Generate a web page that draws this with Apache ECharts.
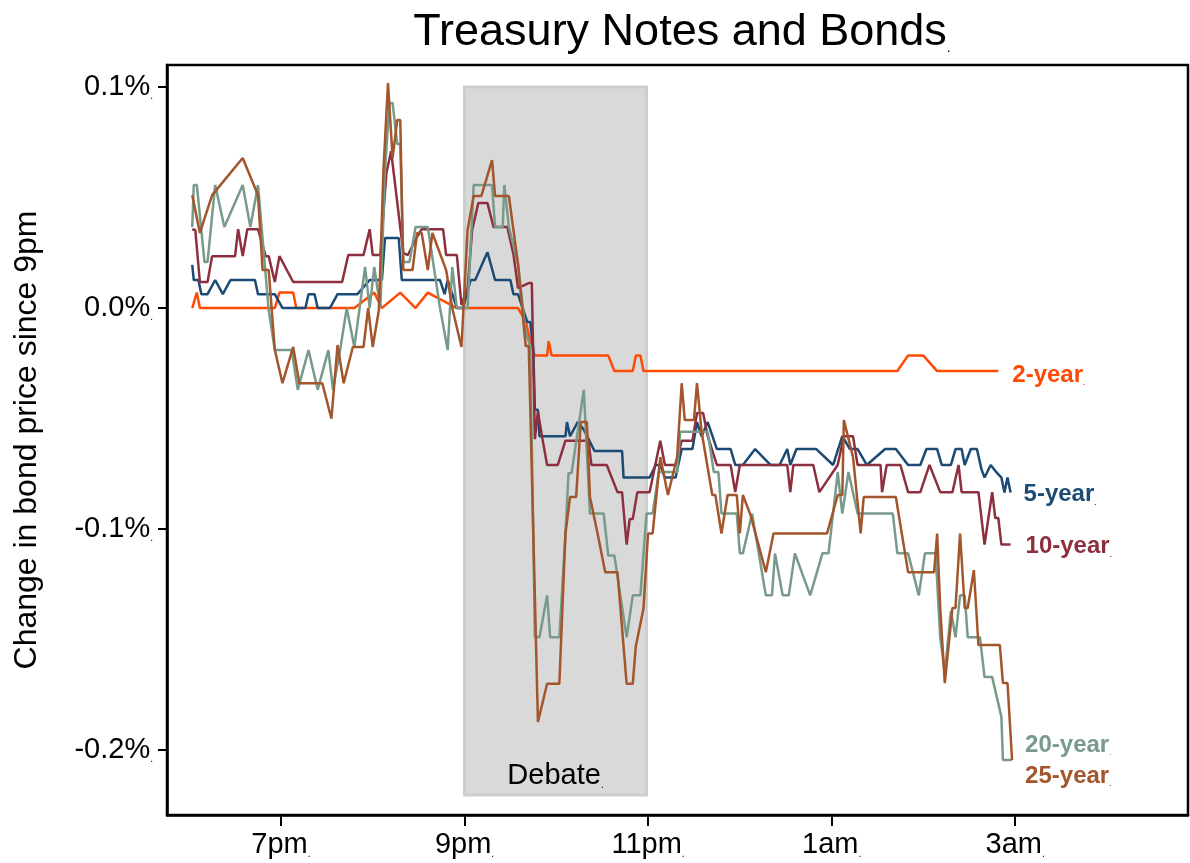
<!DOCTYPE html>
<html>
<head>
<meta charset="utf-8">
<title>Treasury Notes and Bonds</title>
<script src="https://cdn.jsdelivr.net/npm/echarts@6/dist/echarts.min.js"></script>
<style>
  html, body { margin: 0; padding: 0; background: #fff; }
  #chart { width: 1190px; height: 863px; }
</style>
</head>
<body>
<div id="chart"></div>
<script>
// time = minutes after 6pm, value = % change in bond price since 9pm
var xTicks = [60, 180, 300, 420, 540];
var xTickLabels = ['7pm', '9pm', '11pm', '1am', '3am'];
var yTicks = [-0.2, -0.1, 0, 0.1];
var debateSpan = [180, 299];

var twoYear = [[2,0],[5,0.007],[7,0],[56,0],[59,0.007],[68,0.007],[70,0],[108,0],[121,0.007],[126,0],
  [138,0.007],[148,0],[156,0.007],[175,0],[215,0],[220,-0.006],[224,-0.018],[226,-0.0215],[234,-0.0215],
  [235,-0.015],[237,-0.0215],[274,-0.0215],[278,-0.0285],[290,-0.0285],[292,-0.0215],[295,-0.0215],
  [297,-0.0285],[463,-0.0285],[470,-0.0215],[480,-0.0215],[489,-0.0285],[529,-0.0285]];

var fiveYear = [[2,0.0195],[3,0.0127],[6,0.0127],[8,0.0063],[12,0.0063],[17,0.0127],[22,0.0063],[27,0.0127],
  [43,0.0127],[45,0.0063],[56,0.0063],[61,0],[76,0],[78,0.0063],[82,0.0063],[84,0],[92,0],[97,0.0063],
  [110,0.0063],[118,0.0127],[126,0.0127],[128,0.0317],[137,0.0317],[139,0.0127],[164,0.0127],[167,0.0063],
  [169,0.0127],[172,0.0063],[175,0],[179,0],[184,0.0127],[187,0.0127],[191,0.019],[195,0.0253],[200,0.0127],
  [210,0.0127],[212,0.0063],[215,0.0063],[218,0],[221,-0.0063],[223,-0.0063],[225,-0.019],[226,-0.046],
  [228,-0.046],[229,-0.058],[246,-0.058],[247,-0.0516],[249,-0.058],[254,-0.0516],[258,-0.055],[265,-0.0647],
  [283,-0.0647],[284,-0.0767],[301,-0.0767],[305,-0.071],[308,-0.071],[311,-0.0767],[318,-0.0767],
  [322,-0.0638],[329,-0.0638],[332,-0.0516],[335,-0.058],[339,-0.0516],[345,-0.0638],[354,-0.0638],
  [357,-0.071],[362,-0.071],[370,-0.0638],[380,-0.071],[386,-0.071],[391,-0.0638],[393,-0.071],[397,-0.0638],
  [410,-0.0638],[421,-0.071],[427,-0.058],[432,-0.0638],[437,-0.0638],[443,-0.071],[455,-0.0638],
  [462,-0.0638],[470,-0.071],[478,-0.071],[482,-0.0638],[489,-0.0638],[492,-0.071],[498,-0.071],
  [501,-0.0638],[505,-0.0638],[507,-0.071],[511,-0.0638],[515,-0.0638],[518,-0.073],[520,-0.0767],
  [524,-0.071],[528,-0.0745],[531,-0.0767],[533,-0.0835],[535,-0.0767],[537,-0.0835]];

var tenYear = [[2,0.0357],[4,0.0353],[7,0.0118],[12,0.0118],[15,0.0235],[30,0.0235],[32,0.0357],[35,0.0235],
  [38,0.0357],[45,0.0357],[50,0.0235],[52,0.0235],[56,0.0118],[59,0.0235],[68,0.0118],[100,0.0118],
  [104,0.024],[114,0.024],[118,0.0357],[120,0.024],[125,0.024],[129,0.0615],[132,0.071],[140,0.025],
  [143,0.024],[148,0.031],[152,0.0357],[166,0.0357],[168,0.024],[175,0.024],[178,0.0014],[182,0.009],
  [185,0.0353],[189,0.0475],[195,0.0475],[199,0.0367],[208,0.0367],[212,0.0244],[215,0.009],[222,0.0113],
  [224,0.0113],[226,-0.0593],[228,-0.047],[231,-0.0593],[234,-0.071],[241,-0.071],[246,-0.06],[261,-0.06],
  [263,-0.071],[273,-0.071],[280,-0.0833],[283,-0.0833],[286,-0.107],[288,-0.0955],[290,-0.0955],
  [293,-0.0833],[301,-0.0833],[308,-0.06],[311,-0.071],[318,-0.071],[322,-0.06],[329,-0.06],[332,-0.0475],
  [336,-0.0475],[339,-0.058],[345,-0.071],[354,-0.071],[357,-0.0833],[360,-0.071],[391,-0.071],
  [393,-0.0833],[395,-0.071],[408,-0.071],[412,-0.0833],[424,-0.071],[428,-0.058],[434,-0.058],[437,-0.071],
  [452,-0.071],[453,-0.0833],[456,-0.071],[465,-0.071],[470,-0.0833],[478,-0.0833],[484,-0.071],
  [491,-0.0833],[499,-0.0833],[503,-0.071],[505,-0.0833],[516,-0.0833],[520,-0.107],[525,-0.0833],
  [527,-0.095],[529,-0.095],[531,-0.107],[537,-0.107]];

var twentyYear = [[2,0.0367],[3,0.0557],[5,0.0557],[10,0.0208],[12,0.0208],[17,0.0557],[23,0.0367],[35,0.0557],
  [40,0.0367],[45,0.0557],[52,-0.001],[56,-0.019],[67,-0.019],[71,-0.037],[78,-0.019],[84,-0.037],[91,-0.019],
  [94,-0.037],[99,-0.0176],[103,0],[108,-0.0176],[115,0.0186],[118,0],[121,0.0186],[125,0],[128,0.0624],
  [131,0.0928],[133,0.0928],[136,0.0742],[138,0.0742],[140,0.0208],[144,0.0208],[148,0.0367],[156,0.0367],
  [164,0],[169,-0.019],[172,0.0186],[175,0],[182,0],[186,0.0557],[198,0.0557],[200,0.0367],[205,0.0367],
  [206,0.0557],[209,0.0367],[215,0.02],[220,-0.011],[223,-0.0172],[226,-0.149],[229,-0.149],[234,-0.13],
  [236,-0.149],[242,-0.149],[246,-0.102],[248,-0.0747],[250,-0.0747],[258,-0.037],[262,-0.093],[271,-0.093],
  [274,-0.112],[278,-0.112],[286,-0.149],[290,-0.13],[295,-0.13],[299,-0.093],[303,-0.093],[307,-0.0742],
  [319,-0.0742],[321,-0.056],[339,-0.056],[343,-0.0742],[346,-0.0742],[348,-0.093],[358,-0.093],
  [360,-0.111],[362,-0.111],[368,-0.093],[377,-0.13],[381,-0.13],[383,-0.111],[388,-0.13],[392,-0.13],
  [396,-0.111],[406,-0.13],[414,-0.111],[418,-0.111],[424,-0.0742],[427,-0.093],[431,-0.0742],[437,-0.093],
  [460,-0.093],[463,-0.111],[470,-0.111],[477,-0.13],[481,-0.111],[488,-0.111],[491,-0.149],[494,-0.165],
  [498,-0.137],[501,-0.149],[504,-0.13],[507,-0.13],[509,-0.149],[517,-0.149],[520,-0.167],[525,-0.167],
  [531,-0.185],[532,-0.2045],[538,-0.2045]];

var twentyFiveYear = [[2,0.0511],[7,0.034],[15,0.0511],[35,0.0679],[45,0.0511],[48,0.0172],[52,0.0172],
  [56,-0.019],[61,-0.034],[68,-0.0176],[72,-0.034],[87,-0.034],[93,-0.05],[97,-0.0167],[101,-0.034],
  [107,-0.0176],[114,-0.0176],[117,0],[120,-0.0176],[124,-0.001],[127,0.0624],[130,0.1018],[133,0.0679],
  [136,0.0851],[138,0.0851],[140,0.0172],[146,0.0172],[149,0.034],[152,0.034],[156,0.0172],[159,0.034],
  [168,0.0172],[172,0],[178,-0.0176],[182,0.0353],[186,0.0507],[191,0.0507],[198,0.067],[200,0.0507],
  [209,0.0507],[215,0.02],[220,-0.0172],[222,-0.0172],[228,-0.1873],[234,-0.17],[242,-0.17],[246,-0.102],
  [249,-0.0855],[253,-0.0855],[256,-0.0516],[260,-0.0516],[262,-0.0855],[267,-0.102],[272,-0.1195],
  [280,-0.1195],[286,-0.17],[290,-0.17],[292,-0.153],[297,-0.136],[300,-0.102],[303,-0.102],[308,-0.0674],
  [313,-0.0846],[319,-0.0674],[322,-0.034],[324,-0.0507],[330,-0.0507],[332,-0.034],[335,-0.056],
  [342,-0.0846],[344,-0.0846],[348,-0.102],[352,-0.0846],[358,-0.0846],[360,-0.102],[362,-0.0846],
  [367,-0.0937],[377,-0.1195],[382,-0.102],[417,-0.102],[424,-0.0846],[427,-0.0846],[428,-0.0507],
  [434,-0.0674],[439,-0.102],[441,-0.0855],[462,-0.0855],[470,-0.1195],[487,-0.1195],[489,-0.102],
  [491,-0.1357],[494,-0.1697],[499,-0.1357],[501,-0.1357],[504,-0.102],[507,-0.1357],[509,-0.1357],
  [513,-0.1186],[516,-0.1525],[530,-0.1525],[532,-0.1697],[535,-0.1697],[538,-0.2045]];

var seriesNames = ['2-year', '5-year', '10-year', '20-year', '25-year'];
var seriesData = [twoYear, fiveYear, tenYear, twentyYear, twentyFiveYear];
var seriesColors = ['#ff4a06', '#1b4a74', '#8e2f3f', '#789a8b', '#a3552b'];
var labelOffsets = [[14, 4], [13, 2], [15, 2], [13, -15], [13, 16]];

var FONT = '"Liberation Sans", Arial, sans-serif';

function dotted(text, size, color, weight) {
  weight = weight || 'normal';
  return {
    formatter: '{t|' + text + '}{d|.}',
    rich: {
      t: { fontSize: size, color: color, fontFamily: FONT, fontWeight: weight },
      d: { fontSize: Math.round(size * 0.35), color: color, fontFamily: FONT, fontWeight: weight, verticalAlign: 'bottom' }
    }
  };
}

var series = [{
  // shaded debate window
  type: 'line',
  z: 1,
  data: [],
  silent: true,
  markArea: {
    silent: true,
    itemStyle: { color: '#d9d9d9', borderColor: '#cdcdcd', borderWidth: 3 },
    label: Object.assign({ show: true, position: 'insideBottom', distance: 6 }, dotted('Debate', 29, '#000')),
    data: [[{ xAxis: debateSpan[0], yAxis: 0.1 }, { xAxis: debateSpan[1], yAxis: -0.2204 }]]
  }
}];

seriesNames.forEach(function (name, i) {
  series.push({
    name: name,
    type: 'line',
    data: seriesData[i],
    showSymbol: false,
    symbol: 'none',
    z: 2 + i,
    lineStyle: { color: seriesColors[i], width: 2.5 },
    itemStyle: { color: seriesColors[i] },
    endLabel: Object.assign({
      show: true,
      distance: 0,
      offset: labelOffsets[i],
      align: 'left',
      verticalAlign: 'middle'
    }, dotted(name, 24, seriesColors[i], 'bold'))
  });
});

var chart = echarts.init(document.getElementById('chart'));
chart.setOption({
  animation: false,
  backgroundColor: '#fff',
  title: {
    text: '{t|Treasury Notes and Bonds}{d|.}',
    left: 677,
    top: 5,
    textAlign: 'center',
    textStyle: {
      fontWeight: 'normal',
      rich: {
        t: { fontSize: 45, color: '#000', fontFamily: FONT, fontWeight: 'normal' },
        d: { fontSize: 14, color: '#000', fontFamily: FONT, verticalAlign: 'bottom' }
      }
    }
  },
  grid: {
    left: 167, right: 2, top: 65, bottom: 48,
    show: true, borderColor: '#000', borderWidth: 2.5, backgroundColor: '#fff'
  },
  xAxis: {
    type: 'value',
    min: -14.5,
    max: 653,
    splitLine: { show: false },
    axisLine: { show: true, onZero: false, lineStyle: { color: '#000', width: 2.5 } },
    axisTick: { show: true, customValues: xTicks, length: 11, lineStyle: { color: '#000', width: 2 } },
    axisLabel: Object.assign({
      customValues: xTicks,
      margin: 15
    }, dotted('', 29, '#000'), {
      formatter: function (v) {
        var k = xTicks.indexOf(v);
        return '{t|' + (k >= 0 ? xTickLabels[k] : '') + '}{d|.}';
      }
    })
  },
  yAxis: {
    type: 'value',
    min: -0.2294,
    max: 0.11,
    name: 'Change in bond price since 9pm',
    nameLocation: 'middle',
    nameGap: 124,
    nameTextStyle: { fontSize: 32, color: '#000', fontFamily: FONT },
    splitLine: { show: false },
    axisLine: { show: true, onZero: false, lineStyle: { color: '#000', width: 2.5 } },
    axisTick: { show: true, customValues: yTicks, length: 9, lineStyle: { color: '#000', width: 2 } },
    axisLabel: Object.assign({
      customValues: yTicks,
      margin: 14
    }, dotted('', 29, '#000'), {
      formatter: function (v) {
        return '{t|' + v.toFixed(1) + '%}{d|.}';
      }
    })
  },
  series: series
});
window.onresize = chart.resize;
</script>
</body>
</html>
